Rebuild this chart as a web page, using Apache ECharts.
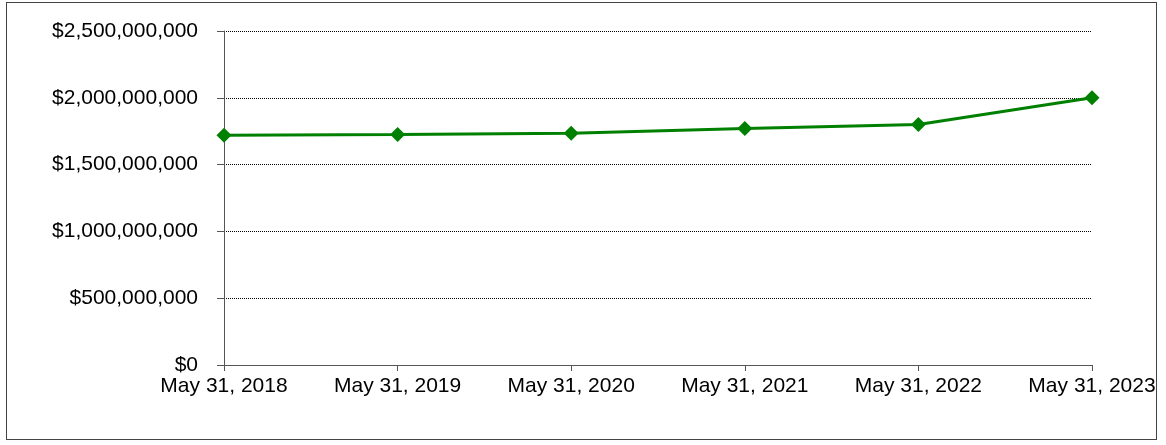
<!DOCTYPE html>
<html>
<head>
<meta charset="utf-8">
<script src="https://cdn.jsdelivr.net/npm/echarts@6/dist/echarts.min.js"></script>
<style>
  html, body { margin: 0; padding: 0; background: #fff; }
  #frame { position: absolute; left: 6px; top: 2px; width: 1151px; height: 438px; border: 1px solid #444; box-sizing: border-box; }
  #chart { position: absolute; left: 0; top: 0; width: 1166px; height: 445px; }
</style>
</head>
<body>
<div id="frame"></div>
<div id="chart"></div>
<script>
// Fiscal year-end dates and the values recorded at each
const categories = ['May 31, 2018', 'May 31, 2019', 'May 31, 2020', 'May 31, 2021', 'May 31, 2022', 'May 31, 2023'];
const values = [1720000000, 1725000000, 1735000000, 1770000000, 1800000000, 2000000000];

const yMin = 0;
const yMax = 2500000000;
const yStep = 500000000;

function money(v) {
  return '$' + Math.round(v).toString().replace(/\B(?=(\d{3})+(?!\d))/g, ',');
}

const chart = echarts.init(document.getElementById('chart'), null, { renderer: 'canvas' });
const font = { fontFamily: '"Liberation Sans", Arial, sans-serif', fontSize: 21, color: '#000' };

chart.setOption({
  animation: false,
  backgroundColor: 'transparent',
  grid: { left: 224, right: 74, top: 31, bottom: 80, containLabel: false },
  xAxis: {
    type: 'category',
    data: categories,
    boundaryGap: false,
    axisLine: { lineStyle: { color: '#555', width: 1 } },
    axisTick: { show: true, length: 6, alignWithLabel: true, lineStyle: { color: '#555' } },
    axisLabel: Object.assign({ margin: 11, interval: 0 }, font),
    splitLine: { show: false }
  },
  yAxis: {
    type: 'value',
    min: yMin,
    max: yMax,
    interval: yStep,
    axisLine: { show: true, lineStyle: { color: '#555', width: 1 } },
    axisTick: { show: true, length: 7, lineStyle: { color: '#555' } },
    axisLabel: Object.assign({ margin: 26, formatter: money }, font),
    splitLine: { show: true, lineStyle: { color: '#000', width: 1, type: [1, 1] } }
  },
  series: [{
    type: 'line',
    data: values,
    symbol: 'diamond',
    symbolSize: [15, 15],
    itemStyle: { color: '#008000' },
    lineStyle: { color: '#008000', width: 3 },
    z: 5
  }]
});
</script>
</body>
</html>
